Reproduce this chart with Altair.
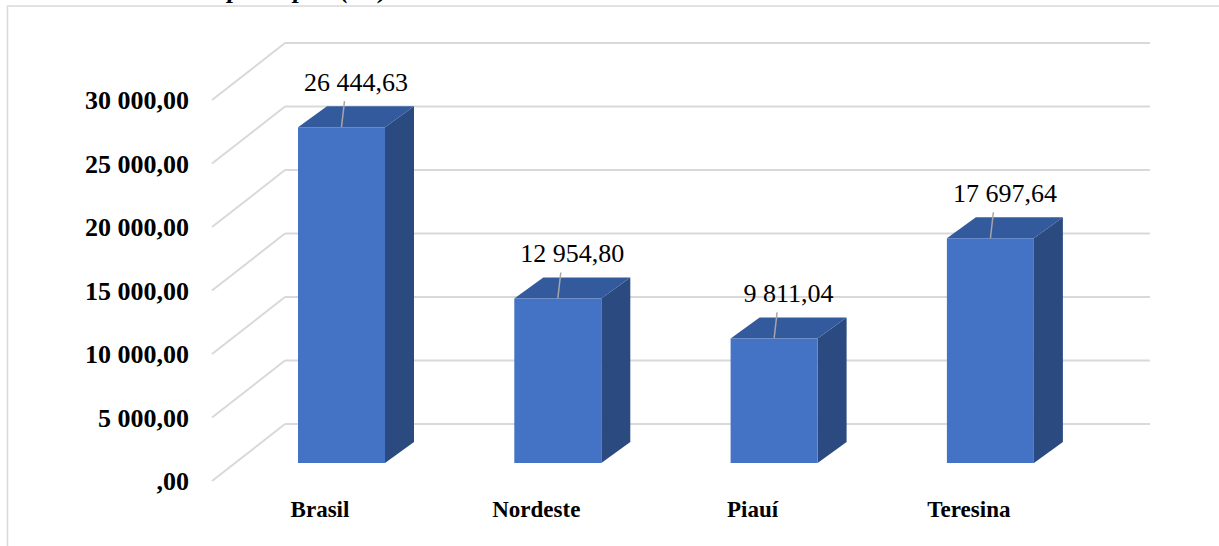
import altair as alt
import pandas as pd

# ---- data -------------------------------------------------------------
categorias = ["Brasil", "Nordeste", "Piauí", "Teresina"]
valores = [26444.63, 12954.80, 9811.04, 17697.64]
ticks = [0, 5000, 10000, 15000, 20000, 25000, 30000]
titulo = "PIB per capita (R$)"

# ---- layout (pixels) ---------------------------------------------------
W, H = 1219, 546
PX = 0.0127        # pixels per R$ on the vertical scale
BASE = 463         # pixel row of the zero line on the bars' front plane
SLOT = 216.3       # distance between bars
LEFT0 = 298        # left edge of the first bar's front face
BW = 87            # bar front width
DX, DY = 29, 21    # bar depth (3-D offset)
BACK = 39          # back wall sits this far above the bars' base
FRONT = 18         # floor front edge sits this far below the bars' base
GX0, GX1, GX2 = 212, 285, 1150   # floor front edge, back wall start, back wall end

FONT = "Times New Roman, Liberation Serif, serif"
GRID = "#d9d9d9"
C_FRONT, C_TOP, C_SIDE = "#4472c4", "#335a9c", "#2a4a80"


def v(px):
    """pixel offset -> value units"""
    return px / PX


def fmt(x):
    # "# ###,00" number style (zero shows as ",00")
    s = f"{x:,.2f}".replace(",", " ").replace(".", ",")
    return s[1:] if s.startswith("0,") else s


xs = alt.Scale(domain=[0, W], range=[0, W], nice=False, zero=False)
ys = alt.Scale(domain=[-(H - BASE) / PX, BASE / PX], nice=False, zero=False)


def X(f):
    return alt.X(f, type="quantitative", scale=xs, axis=None)


def Y(f):
    return alt.Y(f, type="quantitative", scale=ys, axis=None)


# ---- tables built from the lists ---------------------------------------
bars = pd.DataFrame({"nome": categorias, "val": valores})
bars["xl"] = [LEFT0 + i * SLOT for i in range(len(categorias))]
bars["xr"] = bars["xl"] + BW
bars["xc"] = (bars["xl"] + bars["xr"]) / 2
bars["xlab"] = bars["xc"] + DX / 2
bars["xlead"] = bars["xc"] + 3
bars["ylead"] = bars["val"] + v(26)
bars["zero"] = 0.0
bars["xcat"] = bars["xc"] - 21.5
bars["label"] = [fmt(x) for x in valores]

top_rows, side_rows = [], []
for nome, val, xl, xr in zip(bars["nome"], bars["val"], bars["xl"], bars["xr"]):
    top_rows.append({"nome": nome, "y": val, "x": xl, "x2": xr})
    top_rows.append({"nome": nome, "y": val + v(DY), "x": xl + DX, "x2": xr + DX})
    side_rows.append({"nome": nome, "x": xr, "y": 0.0, "y2": val})
    side_rows.append({"nome": nome, "x": xr + DX, "y": v(DY), "y2": val + v(DY)})
top = pd.DataFrame(top_rows)
side = pd.DataFrame(side_rows)

grid = pd.DataFrame({"t": ticks})
grid["yb"] = grid["t"] + v(BACK)
grid["yf"] = grid["t"] - v(FRONT)
grid["x0"], grid["x1"], grid["x2"] = GX0, GX1, GX2
grid["xlab"] = 189
grid["label"] = [fmt(t) for t in ticks]

# ---- layers -------------------------------------------------------------
border = alt.Chart(pd.DataFrame({"k": [0]})).mark_rect(
    fillOpacity=0, stroke=GRID, strokeWidth=1.5
).encode(x=alt.value(7.5), x2=alt.value(1300), y=alt.value(6), y2=alt.value(700))

title = alt.Chart(pd.DataFrame({"t": [titulo]})).mark_text(
    font=FONT, fontSize=26, fontWeight="bold", fontStyle="italic",
    align="right", baseline="alphabetic", color="black"
).encode(x=alt.value(388), y=alt.value(-2), text="t:N")

back_lines = alt.Chart(grid).mark_rule(color=GRID, strokeWidth=2).encode(
    x=X("x1"), x2="x2", y=Y("yb")
)
floor_lines = alt.Chart(grid).mark_rule(color=GRID, strokeWidth=2).encode(
    x=X("x0"), x2="x1", y=Y("yf"), y2="yb"
)
ylabels = alt.Chart(grid).mark_text(
    font=FONT, fontSize=26, fontWeight="bold", align="right",
    baseline="alphabetic", dy=9, color="black"
).encode(x=X("xlab"), y=Y("yf"), text="label:N")

side_face = alt.Chart(side).mark_area(color=C_SIDE, orient="vertical").encode(
    x=X("x"), y=Y("y"), y2="y2", detail="nome:N"
)
top_face = alt.Chart(top).mark_area(color=C_TOP, orient="horizontal").encode(
    y=Y("y"), x=X("x"), x2="x2", detail="nome:N"
)
front_face = alt.Chart(bars).mark_rect(color=C_FRONT).encode(
    x=X("xl"), x2="xr", y=Y("zero"), y2="val"
)

leaders = alt.Chart(bars).mark_rule(color="#a6a6a6", strokeWidth=1.5).encode(
    x=X("xlead"), y=Y("ylead"), x2="xc", y2="val"
)
vlabels = alt.Chart(bars).mark_text(
    font=FONT, fontSize=26, align="center", baseline="alphabetic", dy=-36, color="black"
).encode(x=X("xlab"), y=Y("val"), text="label:N")

xlabels = alt.Chart(bars).mark_text(
    font=FONT, fontSize=23, fontWeight="bold", align="center",
    baseline="alphabetic", dy=54, color="black"
).encode(x=X("xcat"), y=Y("zero"), text="nome:N")

chart = alt.layer(
    border, title, back_lines, floor_lines, ylabels,
    side_face, top_face, front_face, leaders, vlabels, xlabels
).properties(
    width=W, height=H, autosize="none", padding=0, background="white"
).configure_view(stroke=None)

chart.save("out.html", embed_options={"renderer": "svg", "actions": False})
